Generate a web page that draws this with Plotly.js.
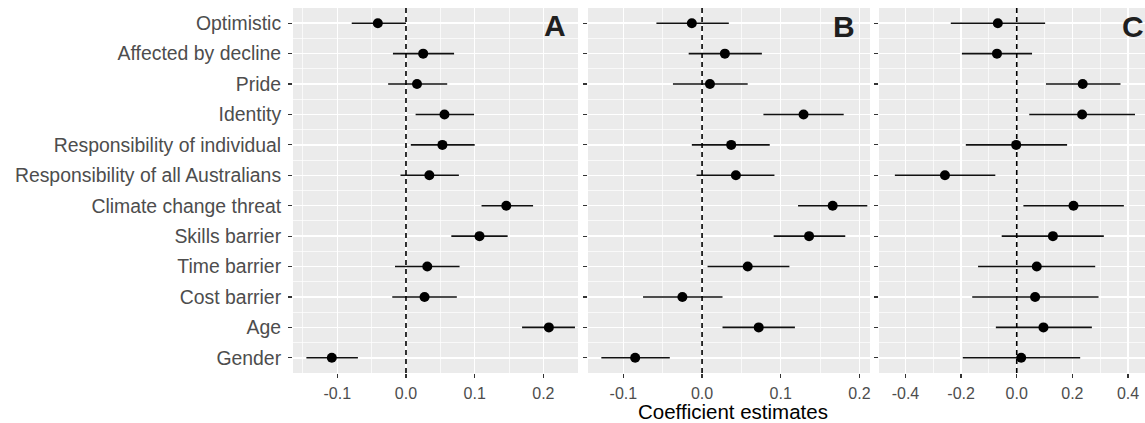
<!DOCTYPE html>
<html>
<head>
<meta charset="utf-8">
<script src="https://cdn.plot.ly/plotly-3.0.1.min.js"></script>
<style>
html,body{margin:0;padding:0;background:#fff;overflow:hidden;}
#chart{width:1145px;height:423px;}
</style>
</head>
<body>
<div id="chart"></div>
<script>
// ---- data ----
var categories = ['Optimistic','Affected by decline','Pride','Identity','Responsibility of individual',
  'Responsibility of all Australians','Climate change threat','Skills barrier','Time barrier',
  'Cost barrier','Age','Gender'];

var estA = [-0.041, 0.025, 0.016, 0.056, 0.053, 0.034, 0.146, 0.107, 0.031, 0.027, 0.208, -0.108];
var lowA = [-0.079, -0.019, -0.026, 0.014, 0.007, -0.008, 0.110, 0.066, -0.016, -0.020, 0.169, -0.145];
var highA = [0.000, 0.070, 0.060, 0.099, 0.100, 0.077, 0.185, 0.148, 0.078, 0.074, 0.246, -0.070];

var estB = [-0.013, 0.029, 0.010, 0.129, 0.037, 0.043, 0.166, 0.136, 0.058, -0.025, 0.072, -0.085];
var lowB = [-0.058, -0.017, -0.037, 0.078, -0.013, -0.007, 0.122, 0.091, 0.007, -0.075, 0.026, -0.128];
var highB = [0.034, 0.076, 0.058, 0.180, 0.086, 0.092, 0.210, 0.182, 0.111, 0.026, 0.118, -0.041];

var estC = [-0.068, -0.071, 0.237, 0.235, -0.002, -0.258, 0.204, 0.130, 0.072, 0.066, 0.096, 0.016];
var lowC = [-0.237, -0.197, 0.105, 0.045, -0.183, -0.438, 0.024, -0.054, -0.139, -0.160, -0.075, -0.194];
var highC = [0.102, 0.055, 0.373, 0.425, 0.181, -0.077, 0.385, 0.313, 0.282, 0.294, 0.270, 0.228];

var panelLabels = ['A','B','C'];
var tickValsAB = [-0.1, 0.0, 0.1, 0.2];
var tickTextAB = ['-0.1','0.0','0.1','0.2'];
var tickValsC = [-0.4, -0.2, 0.0, 0.2, 0.4];
var tickTextC = ['-0.4','-0.2','0.0','0.2','0.4'];
var xTitle = 'Coefficient estimates';

// ---- build ----
var FONT = 'Liberation Sans, Arial, Helvetica, sans-serif';
var rowIdx = categories.map(function(_, i){ return i; });

function mkTrace(est, lo, hi, xa, ya){
  return {
    type:'scatter', mode:'markers', x: est, y: rowIdx, xaxis: xa, yaxis: ya,
    marker:{color:'#000', size:10},
    error_x:{type:'data', symmetric:false,
      array: hi.map(function(h,i){ return h-est[i]; }),
      arrayminus: lo.map(function(l,i){ return est[i]-l; }),
      color:'#111', thickness:1.6, width:0},
    hoverinfo:'x+y', showlegend:false
  };
}

var traces = [
  mkTrace(estA, lowA, highA, 'x', 'y'),
  mkTrace(estB, lowB, highB, 'x2', 'y2'),
  mkTrace(estC, lowC, highC, 'x3', 'y3')
];

function xAxis(domain, range, tv, tt, minor0, minorD, anchor){
  return {
    domain: domain, range: range, anchor: anchor,
    tickmode:'array', tickvals: tv, ticktext: tt,
    showgrid:true, gridcolor:'#ffffff', gridwidth:1.5,
    minor:{tickmode:'linear', tick0:minor0, dtick:minorD, showgrid:true, gridcolor:'#ffffff', gridwidth:0.7, ticks:''},
    zeroline:false, showline:false,
    ticks:'outside', ticklen:4, tickwidth:1.2, tickcolor:'#333333',
    ticklabelstandoff:2,
    tickfont:{family:FONT, size:16, color:'#4d4d4d'}
  };
}
function yAxis(anchor, labels){
  return {
    anchor: anchor, domain:[0,1], range:[11.5,-0.5],
    tickmode:'array', tickvals: rowIdx, ticktext: categories,
    showticklabels: labels,
    showgrid:true, gridcolor:'#ffffff', gridwidth:1.5,
    minor:{tickmode:'linear', tick0:0.5, dtick:1, showgrid:true, gridcolor:'#ffffff', gridwidth:0.7, ticks:''},
    zeroline:false, showline:false,
    ticks:'outside', ticklen:4, tickwidth:1.2, tickcolor:'#333333',
    ticklabelstandoff:3,
    tickfont:{family:FONT, size:19.4, color:'#4d4d4d'}
  };
}

var layout = {
  width:1145, height:423,
  margin:{l:293, r:0, t:8, b:50, pad:0},
  paper_bgcolor:'#ffffff', plot_bgcolor:'#ebebeb',
  font:{family:FONT},
  xaxis: xAxis([0, 0.3345], [-0.1645, 0.2504], tickValsAB, tickTextAB, 0.05, 0.1, 'y'),
  xaxis2: xAxis([0.3462, 0.6772], [-0.145, 0.2134], tickValsAB, tickTextAB, 0.05, 0.1, 'y2'),
  xaxis3: xAxis([0.6878, 1], [-0.495, 0.461], tickValsC, tickTextC, 0.1, 0.2, 'y3'),
  yaxis: yAxis('x', true),
  yaxis2: yAxis('x2', false),
  yaxis3: yAxis('x3', false),
  shapes: [['x','y'],['x2','y2'],['x3','y3']].map(function(r){
    return {type:'line', xref:r[0], yref:r[1], x0:0, x1:0, y0:-0.5, y1:11.5,
      line:{color:'#000', width:1.6, dash:'5px,4px'}, layer:'above'};
  }),
  annotations: [
    {xref:'x', yref:'y', x:0.2176, y:0.08, text:'<b>'+panelLabels[0]+'</b>', showarrow:false,
      xanchor:'center', yanchor:'middle', font:{family:FONT, size:30, color:'#1f1f1f'}},
    {xref:'x2', yref:'y2', x:0.181, y:0.12, text:'<b>'+panelLabels[1]+'</b>', showarrow:false,
      xanchor:'center', yanchor:'middle', font:{family:FONT, size:30, color:'#1f1f1f'}},
    {xref:'x3', yref:'y3', x:0.419, y:0.12, text:'<b>'+panelLabels[2]+'</b>', showarrow:false,
      xanchor:'center', yanchor:'middle', font:{family:FONT, size:30, color:'#1f1f1f'}},
    {xref:'paper', yref:'paper', x:0.517, y:-0.1066, text:xTitle, showarrow:false,
      xanchor:'center', yanchor:'middle', font:{family:FONT, size:20.5, color:'#000'}}
  ]
};

Plotly.newPlot('chart', traces, layout, {displayModeBar:false, staticPlot:true});
</script>
</body>
</html>
